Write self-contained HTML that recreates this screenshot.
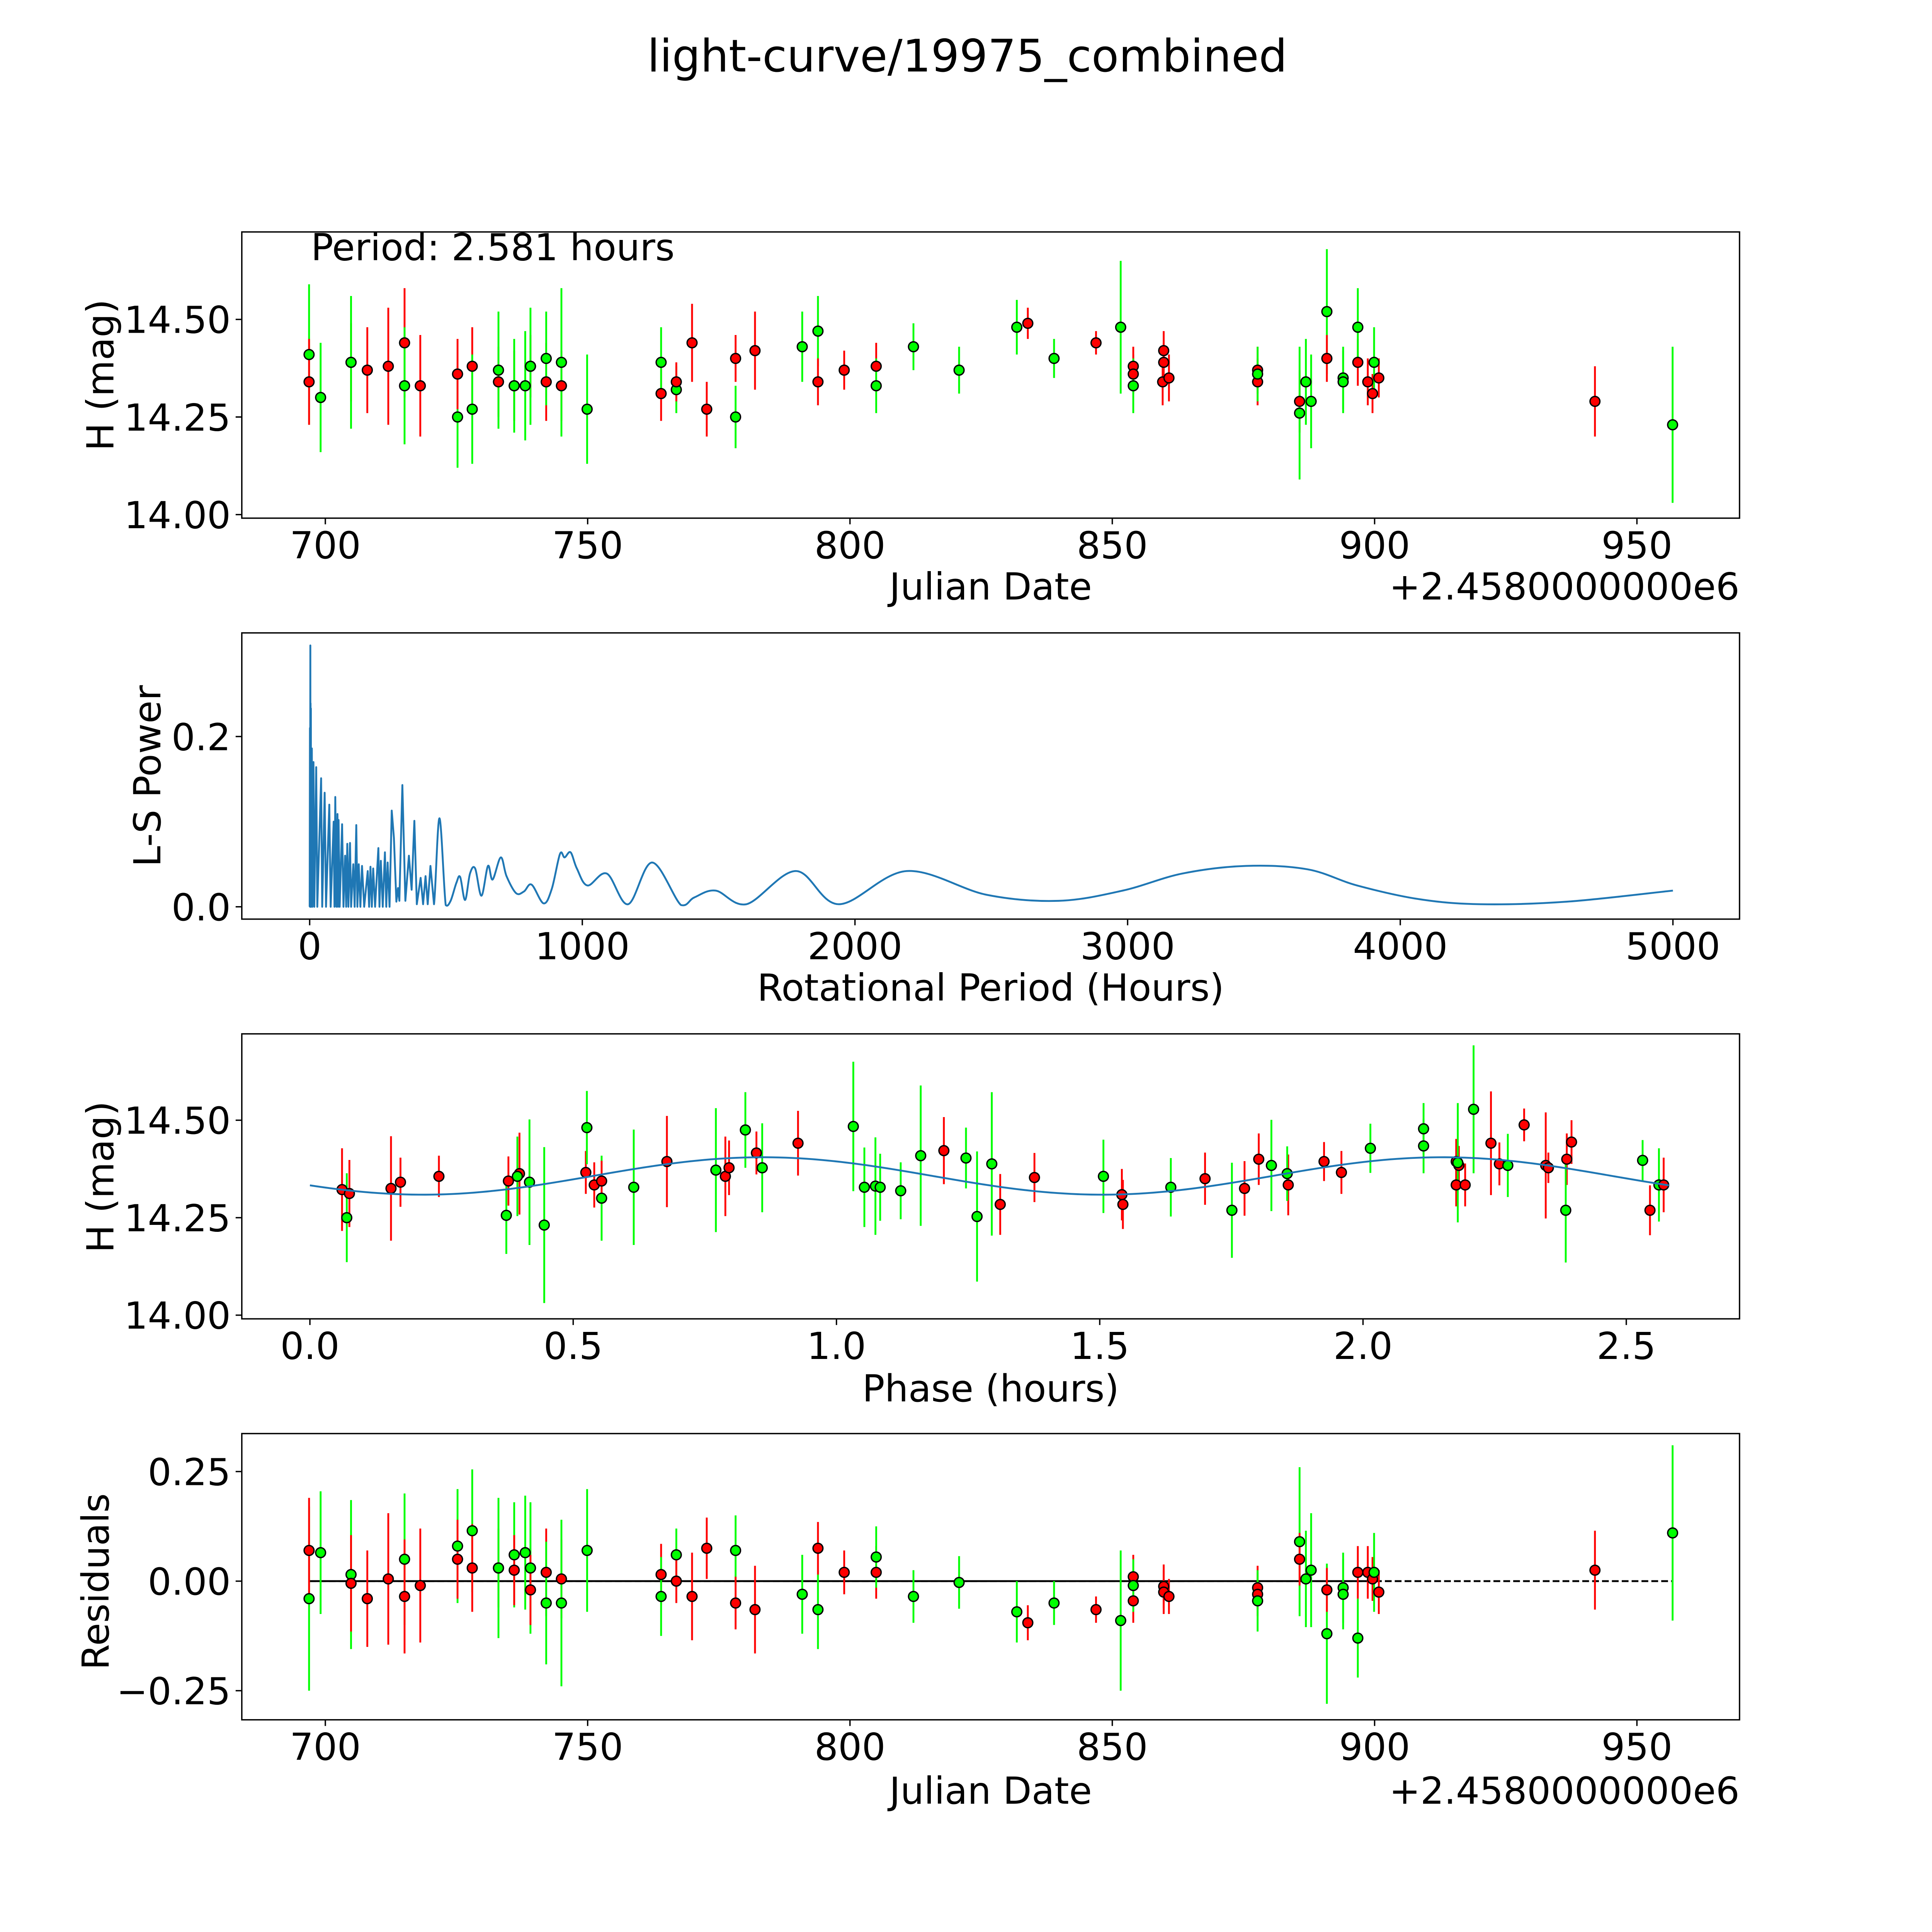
<!DOCTYPE html>
<html><head><meta charset="utf-8"><style>
html,body{margin:0;padding:0;background:#fff;overflow:hidden;width:100%;height:100%;}
svg{display:block;width:100vw;height:100vh;}
text{font-family:"DejaVu Sans","Liberation Sans",sans-serif;fill:#000;}
</style></head><body>
<svg id="fig" xmlns="http://www.w3.org/2000/svg" width="100%" height="100%" viewBox="0 0 1566 1566" preserveAspectRatio="xMidYMid meet">
<rect x="0" y="0" width="1566" height="1566" fill="#fff"/>
<text x="784" y="58" font-size="36.2" text-anchor="middle">light-curve/19975_combined</text>
<g id="g1"></g>
<g id="g2"></g>
<g id="g3"></g>
<g id="g4"></g>
</svg>
<script>
// ---------- data ----------
const lcDates=[696.9,696.9,699.1,704.9,704.9,708.0,712.0,715.1,715.1,718.1,725.2,725.2,728.0,728.0,733.0,733.0,736.0,736.0,738.1,739.1,739.1,742.1,742.1,745.0,745.0,749.9,764.0,764.0,766.9,766.9,769.9,772.7,778.2,778.2,781.9,790.9,793.9,793.9,798.9,805.0,805.0,812.1,820.8,831.8,833.9,838.9,846.9,851.6,854.0,854.0,854.0,859.8,859.8,859.6,860.8,877.7,877.7,877.7,885.7,885.7,886.9,887.9,890.9,890.9,894.0,894.0,896.8,896.8,898.7,899.6,899.9,900.8,942.0,956.8];
const lcMags=[14.41,14.34,14.30,14.39,14.39,14.37,14.38,14.44,14.33,14.33,14.25,14.36,14.38,14.27,14.34,14.37,14.33,14.33,14.33,14.38,14.38,14.34,14.40,14.33,14.39,14.27,14.31,14.39,14.32,14.34,14.44,14.27,14.40,14.25,14.42,14.43,14.47,14.34,14.37,14.38,14.33,14.43,14.37,14.48,14.49,14.40,14.44,14.48,14.38,14.36,14.33,14.42,14.39,14.34,14.35,14.37,14.34,14.36,14.29,14.26,14.34,14.29,14.52,14.40,14.35,14.34,14.39,14.48,14.34,14.31,14.39,14.35,14.29,14.23];
const lcErrs=[.18,.11,.14,.10,.17,.11,.15,.14,.15,.13,.13,.09,.10,.14,.09,.15,.09,.12,.14,.08,.15,.10,.12,.09,.19,.14,.07,.09,.06,.05,.10,.07,.06,.08,.10,.09,.09,.06,.05,.06,.07,.06,.06,.07,.04,.05,.03,.17,.05,.05,.07,.05,.05,.06,.06,.06,.06,.07,.08,.17,.11,.12,.16,.06,.08,.08,.06,.10,.06,.05,.09,.05,.09,.20];
const lcBands="grgrgrrrgrgrrgrgrggrgrgrggrggrrrrgrggrrrggggrgrgrrgrrrrrrgrggggrggrgrrgrrg";

const lsPeriods=[0,1,1.5,2.5,3,3.3,3.8,4.5,5,8,10,14,17,24,28,42,46,55,60,72,77,88,91,94,98,102,104,106,110,119,124,130,134,138,142,148,152,160,165,171,175,180,186,192,200,213,218,223,228,233,240,252,256,261,268,276,281,286,293,301,309,318,324,329,340,351,364,374,384,393,407,416,425,433,443,456,476,499,517,538,552,570,588,607,630,654,671,701,722,757,786,814,858,888,918,935,957,980,1019,1090,1168,1256,1362,1411,1489,1602,1783,1941,2190,2484,2747,2982,3200,3434,3660,3842,4068,4294,4611,5000];
const lsPowers=[0,.21,0,.307,0,.239,0,.233,0,.186,0,.17,0,.164,0,.151,0,.134,0,.12,0,.1,0,.129,0,.109,0,.102,0,.097,0,.06,0,.074,0,.075,0,.05,0,.096,0,.05,0,.048,0,.042,0,.047,0,.045,0,.069,0,.054,0,.064,0,.052,0,.113,.081,.006,.022,.007,.143,.007,.06,.02,.101,.003,.034,.003,.036,.003,.048,.003,.104,.002,.007,.028,.035,.008,.039,.045,.013,.048,.032,.058,.036,.016,.018,.026,.004,.021,.062,.058,.064,.045,.025,.039,.003,.052,.002,.011,.019,.003,.042,.003,.042,.014,.007,.019,.039,.048,.044,.025,.009,.003,.006,.019];

const phPhases=[.061,.070,.075,.154,.172,.245,.377,.373,.398,.394,.417,.445,.524,.526,.540,.554,.554,.615,.678,.771,.789,.796,.827,.848,.859,.927,1.032,1.053,1.074,1.083,1.122,1.160,1.204,1.246,1.267,1.295,1.311,1.376,1.507,1.542,1.544,1.635,1.700,1.751,1.775,1.802,1.826,1.858,1.856,1.926,1.959,2.014,2.115,2.115,2.177,2.177,2.182,2.180,2.194,2.210,2.243,2.259,2.275,2.306,2.347,2.352,2.387,2.396,2.385,2.531,2.545,2.562,2.571];
const phMags=[14.322,14.250,14.312,14.325,14.341,14.356,14.344,14.256,14.363,14.356,14.341,14.231,14.366,14.481,14.334,14.300,14.344,14.328,14.394,14.372,14.356,14.378,14.475,14.416,14.378,14.441,14.484,14.328,14.331,14.328,14.319,14.409,14.422,14.403,14.253,14.388,14.284,14.353,14.356,14.309,14.284,14.328,14.350,14.269,14.325,14.400,14.384,14.334,14.363,14.394,14.366,14.428,14.478,14.434,14.394,14.334,14.384,14.391,14.334,14.528,14.441,14.388,14.384,14.488,14.384,14.378,14.400,14.444,14.269,14.397,14.269,14.334,14.334];
const phErrs=[.106,.114,.086,.134,.063,.053,.063,.099,.105,.102,.161,.2,.055,.094,.058,.109,.052,.148,.117,.159,.102,.07,.097,.055,.114,.083,.166,.102,.125,.086,.073,.18,.086,.078,.167,.184,.078,.063,.094,.066,.063,.075,.067,.122,.07,.066,.117,.078,.07,.05,.055,.063,.066,.07,.058,.055,.05,.153,.055,.164,.133,.055,.081,.042,.136,.039,.066,.056,.134,.052,.064,.094,.07];
const phBands="rgrrrrrgrgggrgrgrgrgrrgrgrggggggrgggrrgrrgrgrrgrgrrgggrrrgrgrrgrrrrrggrgr";
const modelParams=[14.357,0.048,0.86,2.581]; // mean, amplitude, peak phase, period

const resDates=[696.9,696.9,699.1,704.9,704.9,708.0,712.0,715.1,715.1,718.1,725.2,725.2,728.0,728.0,733.0,733.0,736.0,736.0,738.1,739.1,739.1,742.1,742.1,745.0,745.0,749.9,764.0,764.0,766.9,766.9,769.9,772.7,778.2,778.2,781.9,790.9,793.9,793.9,798.9,805.0,805.0,812.1,820.8,831.8,833.9,838.9,846.9,851.6,854.0,854.0,854.0,859.8,859.8,860.8,877.7,877.7,877.7,885.7,885.7,886.9,887.9,890.9,890.9,894.0,894.0,896.8,896.8,898.7,899.6,899.9,900.8,942.0,956.8];
const resVals=[-.04,.07,.065,.015,-.005,-.04,.005,.05,-.035,-.01,.08,.05,.115,.03,.03,.03,.06,.025,.065,.03,-.02,.02,-.05,.005,-.05,.07,.015,-.035,.06,0,-.035,.075,.07,-.05,-.065,-.03,-.065,.075,.02,.02,.055,-.035,-.003,-.07,-.095,-.05,-.065,-.09,.01,-.045,-.01,-.012,-.025,-.035,-.015,-.03,-.045,.09,.05,.005,.025,-.12,-.02,-.015,-.03,.02,-.13,.02,.005,.02,-.025,.025,.11];
const resErrs=[.21,.12,.14,.17,.11,.11,.15,.15,.13,.13,.13,.09,.14,.10,.09,.16,.12,.08,.13,.15,.08,.10,.14,.09,.19,.14,.07,.09,.06,.05,.10,.07,.08,.06,.10,.09,.09,.06,.05,.06,.07,.06,.06,.07,.04,.05,.03,.16,.05,.05,.06,.05,.05,.04,.05,.05,.07,.17,.06,.11,.13,.16,.05,.08,.08,.06,.09,.06,.05,.09,.05,.09,.20];
const resBands="grggrrrgrrgrgrrggrggrrgrggrggrrrgrrggrrrggggrgrgrrgrrrrrggrgggrggrgrrgrrg";
const lastObsDate=[900.8];

const dateTicks=[700,750,800,850,900,950];
const magTicks=[14.00,14.25,14.50];
const magTickLabels=["14.00","14.25","14.50"];
const lsXTicks=[0,1000,2000,3000,4000,5000];
const lsYTicks=[0.0,0.2];
const lsYTickLabels=["0.0","0.2"];
const phXTicks=[0,0.5,1.0,1.5,2.0,2.5];
const phXTickLabels=["0.0","0.5","1.0","1.5","2.0","2.5"];
const resTicks=[-0.25,0,0.25];
const resTickLabels=["\u22120.25","0.00","0.25"];

// ---------- helpers ----------
const NS="http://www.w3.org/2000/svg";
const FS=30.2;
function el(parent,tag,attrs){const e=document.createElementNS(NS,tag);for(const k in attrs)e.setAttribute(k,attrs[k]);parent.appendChild(e);return e;}
function lin(d0,d1,r0,r1){return v=>r0+(v-d0)*(r1-r0)/(d1-d0);}
const COL={r:"#ff0000",g:"#00ff00"};

const axes=[
 {g:"g1",x0:196,x1:1410,y0:188,y1:420,X:lin(700,900,263.7,1114.2),Y:lin(14.0,14.5,417.1,258.9)},
 {g:"g2",x0:196,x1:1410,y0:513,y1:745,X:lin(0,5000,251,1356),Y:lin(0,0.2,735,597)},
 {g:"g3",x0:196,x1:1410,y0:838,y1:1069,X:lin(0,0.5,251.2,464.6),Y:lin(14.0,14.5,1066,908)},
 {g:"g4",x0:196,x1:1410,y0:1162,y1:1394,X:lin(700,900,263.7,1114.2),Y:lin(0,0.25,1281.6,1192.8)}
];

function frame(a){
 const g=document.getElementById(a.g);
 const r=el(g,"rect",{x:a.x0,y:a.y0,width:a.x1-a.x0,height:a.y1-a.y0,fill:"none",stroke:"#000","stroke-width":1.1});
 
 
}
function xticks(a,vals,labels,name){
 const g=document.getElementById(a.g);
 vals.forEach((v,i)=>{const x=a.X(v);
  const t=el(g,"line",{x1:x,x2:x,y1:a.y1,y2:a.y1+5,stroke:"#000","stroke-width":1.1});
  
  
  const tx=el(g,"text",{x:x,y:a.y1+32.5,"font-size":FS,"text-anchor":"middle"});
  tx.textContent=labels[i];
  
  
 });
}
function yticks(a,vals,labels,name){
 const g=document.getElementById(a.g);
 vals.forEach((v,i)=>{const y=a.Y(v);
  const t=el(g,"line",{x1:a.x0-5,x2:a.x0,y1:y,y2:y,stroke:"#000","stroke-width":1.1});
  
  
  const tx=el(g,"text",{x:a.x0-9,y:y+11,"font-size":FS,"text-anchor":"end"});
  tx.textContent=labels[i];
  
  
 });
}
function label(a,txt,x,y,rot,name,anchor){
 const g=document.getElementById(a.g);
 const t=el(g,"text",{x:x,y:y,"font-size":FS,"text-anchor":anchor||"middle"});
 if(rot)t.setAttribute("transform","rotate(-90 "+x+" "+y+")");
 t.textContent=txt;
 
 
}
function points(a,xs,ys,es,bands){
 const g=document.getElementById(a.g);
 xs.forEach((xv,i)=>{const x=a.X(xv),c=COL[bands[i]];
  const e=el(g,"line",{x1:x,x2:x,y1:a.Y(ys[i]-es[i]),y2:a.Y(ys[i]+es[i]),stroke:c,"stroke-width":1.5});
  
  
 });
 xs.forEach((xv,i)=>{const x=a.X(xv),c=COL[bands[i]];
  const m=el(g,"circle",{cx:x,cy:a.Y(ys[i]),r:4,fill:c,stroke:"#000","stroke-width":1.1});
  
  
 });
}

// ---------- panel 1 ----------
let a=axes[0];
points(a,lcDates,lcMags,lcErrs,lcBands);
frame(a);
xticks(a,dateTicks,dateTicks.map(String),'x-axis');
yticks(a,magTicks,magTickLabels,'y-axis');
label(a,"Julian Date",803,486,false,'x-axis-title');
label(a,"+2.4580000000e6",1410,486,false,'x-axis-offset','end');
label(a,"H (mag)",92,304,true,'y-axis-title');
label(a,"Period: 2.581 hours",252,211,false,'period-annotation','start');

// ---------- panel 2 ----------
a=axes[1];
{const g=document.getElementById(a.g);
 const pts=lsPeriods.map((p,i)=>[a.X(p),a.Y(lsPowers[i])]);
 let d="M"+pts[0][0].toFixed(2)+","+pts[0][1].toFixed(2);
 for(let i=1;i<pts.length;i++){
  if(lsPeriods[i]<470){d+="L"+pts[i][0].toFixed(2)+","+pts[i][1].toFixed(2);continue;}
  const p0=pts[Math.max(i-2,0)],p1=pts[i-1],p2=pts[i],p3=pts[Math.min(i+1,pts.length-1)];
  const c1x=p1[0]+(p2[0]-p0[0])/6,c1y=p1[1]+(p2[1]-p0[1])/6;
  const c2x=p2[0]-(p3[0]-p1[0])/6,c2y=p2[1]-(p3[1]-p1[1])/6;
  d+="C"+c1x.toFixed(2)+","+Math.min(c1y,735).toFixed(2)+" "+c2x.toFixed(2)+","+Math.min(c2y,735).toFixed(2)+" "+p2[0].toFixed(2)+","+p2[1].toFixed(2);
 }
 const line=el(g,"path",{d:d,fill:"none",stroke:"#1f77b4","stroke-width":1.5,"stroke-linejoin":"round"});
 
 
}
frame(a);
xticks(a,lsXTicks,lsXTicks.map(String),'x-axis');
yticks(a,lsYTicks,lsYTickLabels,'y-axis');
label(a,"Rotational Period (Hours)",803,811,false,'x-axis-title');
label(a,"L-S Power",130,629,true,'y-axis-title');

// ---------- panel 3 ----------
a=axes[2];
{const g=document.getElementById(a.g);
 let d="";
 for(let k=0;k<=200;k++){const ph=modelParams[3]*k/200;
  const h=modelParams[0]+modelParams[1]*Math.cos(4*Math.PI*(ph-modelParams[2])/modelParams[3]);
  d+=(k?"L":"M")+a.X(ph).toFixed(2)+","+a.Y(h).toFixed(2);}
 points(a,phPhases,phMags,phErrs,phBands);
 const m=el(g,"path",{d:d,fill:"none",stroke:"#1f77b4","stroke-width":1.5});
 
 
}
frame(a);
xticks(a,phXTicks,phXTickLabels,'x-axis');
yticks(a,magTicks,magTickLabels,'y-axis');
label(a,"Phase (hours)",803,1136,false,'x-axis-title');
label(a,"H (mag)",92,954,true,'y-axis-title');

// ---------- panel 4 ----------
a=axes[3];
{const g=document.getElementById(a.g);
 const x0=a.X(Math.min(...resDates)),x1=a.X(Math.max(...resDates)),xm=a.X(lastObsDate[0]),y=a.Y(0);
 const s=el(g,"line",{x1:x0,x2:xm,y1:y,y2:y,stroke:"#000","stroke-width":1.5});
 
 
 const dl=el(g,"line",{x1:x0,x2:x1,y1:y,y2:y,stroke:"#000","stroke-width":1.5,"stroke-dasharray":"5.5,2.5"});
 
 
}
points(a,resDates,resVals,resErrs,resBands);
frame(a);
xticks(a,dateTicks,dateTicks.map(String),'x-axis');
yticks(a,resTicks,resTickLabels,'y-axis');
label(a,"Julian Date",803,1462,false,'x-axis-title');
label(a,"+2.4580000000e6",1410,1462,false,'x-axis-offset','end');
label(a,"Residuals",88,1282,true,'y-axis-title');
</script>
</body></html>
